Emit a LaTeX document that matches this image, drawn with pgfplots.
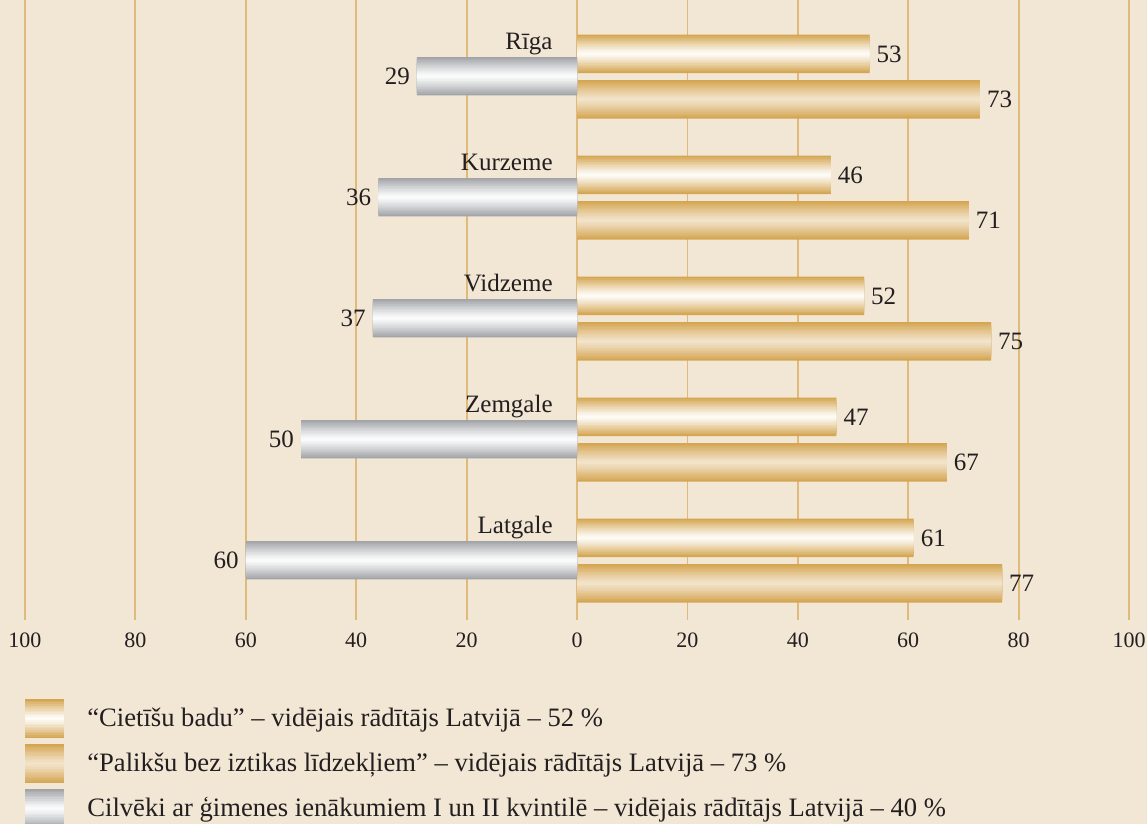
\documentclass[border=0pt]{standalone}
\usepackage{pgfplots}
\usepackage{pgfplotstable}
\pgfplotsset{compat=1.18}
\usepackage{fontspec}
\setmainfont{Liberation Serif}
\definecolor{bg}{RGB}{242,230,212}
\definecolor{gold}{RGB}{213,166,82}
\definecolor{goldlight}{RGB}{243,229,206}
\definecolor{greyd}{RGB}{162,164,168}
\definecolor{gridc}{RGB}{224,186,122}
\definecolor{txt}{RGB}{35,31,32}

\pgfplotstableread{
y1    v1  y2    v2  y3    v3   l3
0.445 53  0.821 73  0.630 -29  29
1.445 46  1.821 71  1.630 -36  36
2.445 52  2.821 75  2.630 -37  37
3.445 47  3.821 67  3.630 -50  50
4.445 61  4.821 77  4.630 -60  60
}\data

% one layer of a bar series: x col, y col, edge colour, centre colour, bar width, share of edge colour
\newcommand{\layer}[6]{\addplot[forget plot, draw=none, fill=#3!#6!#4, bar width=#5] table[x=#1,y=#2]{\data};}
\newcommand{\shadedbars}[4]{%
  \layer{#1}{#2}{#3}{#4}{0.318}{100}%
  \layer{#1}{#2}{#3}{#4}{0.2915}{90}%
  \layer{#1}{#2}{#3}{#4}{0.265}{80}%
  \layer{#1}{#2}{#3}{#4}{0.2385}{71}%
  \layer{#1}{#2}{#3}{#4}{0.212}{62}%
  \layer{#1}{#2}{#3}{#4}{0.1855}{52}%
  \layer{#1}{#2}{#3}{#4}{0.159}{44}%
  \layer{#1}{#2}{#3}{#4}{0.1325}{35}%
  \layer{#1}{#2}{#3}{#4}{0.106}{27}%
  \layer{#1}{#2}{#3}{#4}{0.0795}{19}%
  \layer{#1}{#2}{#3}{#4}{0.053}{12}%
  \layer{#1}{#2}{#3}{#4}{0.0265}{5}%
}
% legend swatch built the same way
\newcommand{\swatch}[2]{%
  \foreach \k/\p in {0/100,1/90,2/80,3/71,4/62,5/52,6/44,7/35,8/27,9/19,10/12,11/5}{%
    \fill[draw=none, #1!\p!#2] (0pt,{-9.75pt+\k*0.8125pt}) rectangle (19.5pt,{9.75pt-\k*0.8125pt});}%
  \path (30pt,0pt);}

\begin{document}
\begin{tikzpicture}[x=1pt,y=1pt]
\fill[bg] (-12.5,0) rectangle (561,-412);
\useasboundingbox (-12.5,0) rectangle (561,-412);
\begin{axis}[
  at={(0,0)}, anchor=north west,
  scale only axis, width=552pt, height=310pt,
  xmin=-100, xmax=100, ymin=0, ymax=5.124, y dir=reverse,
  axis line style={draw=none},
  ytick=\empty,
  xtick={-100,-80,...,100},
  xticklabels={100,80,60,40,20,0,20,40,60,80,100},
  major tick length=0pt,
  xmajorgrids, grid style={gridc, line width=0.9pt},
  tick label style={font=\fontsize{11}{13}\selectfont, text=txt},
  xticklabel style={yshift=-3pt},
  xbar, bar shift=0pt,
  nodes near coords style={font=\fontsize{12.5}{14}\selectfont, text=txt},
  legend style={at={(0,-0.127)}, anchor=north west, draw=none, fill=none,
    inner sep=0pt, row sep=3pt, font=\fontsize{13.3}{15}\selectfont, text=txt,
    nodes={inner sep=1pt}, cells={anchor=west}},
]
\shadedbars{v1}{y1}{gold}{white}
\shadedbars{v2}{y2}{gold}{goldlight}
\shadedbars{v3}{y3}{greyd}{white}
\addplot[forget plot, draw=none, fill=none, bar width=0.318,
  nodes near coords, nodes near coords align=right, point meta=explicit symbolic]
  table[x=v1, y=y1, meta=v1] {\data};
\addplot[forget plot, draw=none, fill=none, bar width=0.318,
  nodes near coords, nodes near coords align=right, point meta=explicit symbolic]
  table[x=v2, y=y2, meta=v2] {\data};
\addplot[forget plot, draw=none, fill=none, bar width=0.318,
  nodes near coords, nodes near coords align=left, point meta=explicit symbolic]
  table[x=v3, y=y3, meta=l3] {\data};
\addlegendimage{draw=none, legend image code/.code={\swatch{gold}{white}}}
\addlegendentry{“Cietīšu badu” – vidējais rādītājs Latvijā – 52 \%}
\addlegendimage{draw=none, legend image code/.code={\swatch{gold}{goldlight}}}
\addlegendentry{“Palikšu bez iztikas līdzekļiem” – vidējais rādītājs Latvijā – 73 \%}
\addlegendimage{draw=none, legend image code/.code={\swatch{greyd}{white}}}
\addlegendentry{Cilvēki ar ģimenes ienākumiem I un II kvintilē – vidējais rādītājs Latvijā – 40 \%}
\begin{scope}[every node/.style={anchor=base east, inner sep=0pt, text=txt, font=\fontsize{12.5}{14}\selectfont}]
\node at (axis cs:-4.35,0.413) {Rīga};
\node at (axis cs:-4.35,1.413) {Kurzeme};
\node at (axis cs:-4.35,2.413) {Vidzeme};
\node at (axis cs:-4.35,3.413) {Zemgale};
\node at (axis cs:-4.35,4.413) {Latgale};
\end{scope}
\end{axis}
\end{tikzpicture}
\end{document}
